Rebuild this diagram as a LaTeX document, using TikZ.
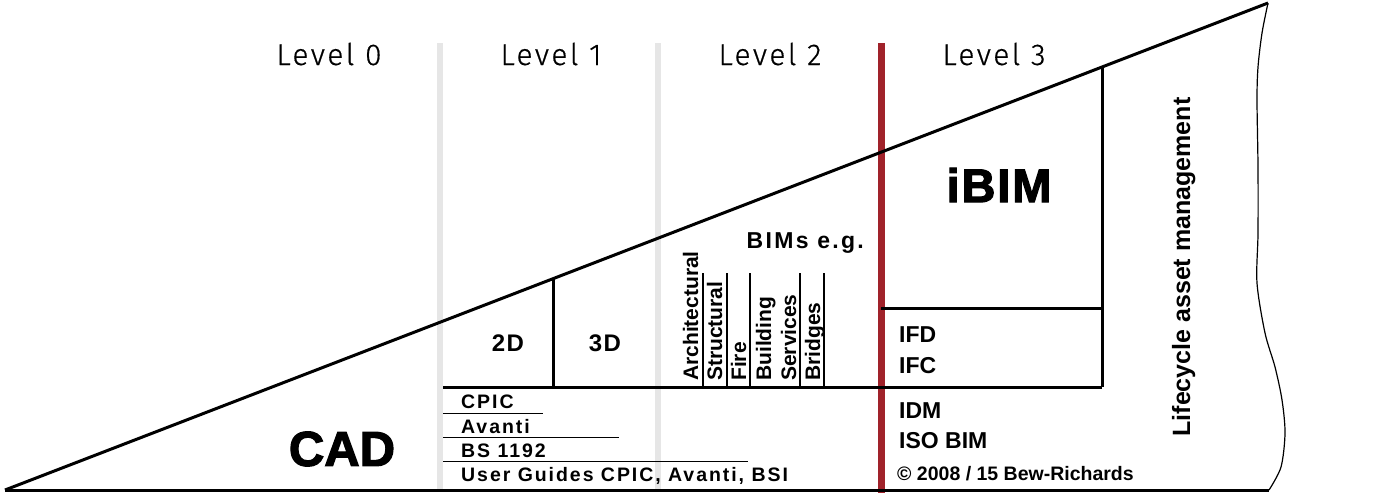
\documentclass[tikz,border=0pt]{standalone}
\usepackage{fontspec}
\setmainfont{Liberation Sans}
\newfontfamily\levelfont[LetterSpace=8,FakeBold=0.5]{Fira Sans Light}
\newfontfamily\heavyfont[FakeBold=2.5]{Liberation Sans Bold}
\newfontfamily\widefont[LetterSpace=10]{Liberation Sans Bold}
\newfontfamily\tagfont[LetterSpace=6]{Liberation Sans Bold}
\newfontfamily\boldfont{Liberation Sans Bold}
\usetikzlibrary{calc}
\definecolor{levelgrey}{HTML}{E6E6E6}
\definecolor{levelred}{HTML}{A0222A}

\begin{document}
\begin{tikzpicture}[
    x=1pt, y=-1pt,
    thickline/.style={line width=3pt},
    thinline/.style={line width=1pt},
    levelline/.style={line width=6pt, draw=levelgrey},
    lvl/.style={font=\levelfont\fontsize{30}{30}\selectfont, anchor=base, inner sep=0pt},
    rowtext/.style={font=\widefont\fontsize{19.5}{19.5}\selectfont, anchor=base west, inner sep=0pt},
    bimtext/.style={font=\boldfont\fontsize{21}{21}\selectfont, rotate=90, anchor=base west, inner sep=0pt},
    stdtext/.style={font=\boldfont\fontsize{23}{23}\selectfont, anchor=base west, inner sep=0pt},
    bigtext/.style={font=\heavyfont\fontsize{#1}{#1}\selectfont, inner sep=0pt}
]
    \useasboundingbox (0,0) rectangle (1383,493);

    % level separators
    \draw[levelline] (440,43) -- (440,490);
    \draw[levelline] (658,43) -- (658,490);
    \draw[line width=7pt, levelred] (881,43) -- (881,493);

    \node[lvl] (lvl0) at (329,65) {Level 0};
    \node[lvl] (lvl1) at (551,65) {Level 1};
    \node[lvl] (lvl2) at (770,65) {Level 2};
    \node[lvl] (lvl3) at (994,65) {Level 3};

    % wedge
    \coordinate (apex) at (5,490);
    \coordinate (tip) at (1268,3);
    \coordinate (foot) at (1269,490);
    \draw[thickline] (apex) -- (tip);
    \draw[thickline] (apex) -- (foot);
    \draw[line width=1.2pt] plot[smooth] coordinates {(1268,3) (1262,33) (1258,67)
        (1257,100) (1258,167) (1258,233) (1257,283) (1265,333) (1275,367)
        (1282,400) (1285,433) (1281,467) (1269,490)};

    % boxes
    \coordinate (d2) at ($(apex)!0.4339!(tip)$);
    \coordinate (d3) at ($(apex)!0.8686!(tip)$);
    \draw[thickline] (443,387) -- (1102,387);
    \draw[thickline] (d2) -- (d2 |- 0,387);
    \draw[thickline] (d3) -- (d3 |- 0,387);
    \draw[thickline] (881,308) -- (1102,308);

    % level 1 rows
    \draw[thinline] (443,413) -- (543,413);
    \draw[thinline] (443,437) -- (619,437);
    \draw[thinline] (443,461) -- (748,461);
    \node[rowtext] (cpic) at (461,408) {CPIC};
    \node[rowtext] (avanti) at (461,433) {Avanti};
    \node[rowtext] (bs) at (461,457) {BS 1192};
    \node[rowtext] (guides) at (461,481) {User Guides CPIC, Avanti, BSI};

    \node[bigtext=49] (cad) at (342,449) {CAD};
    \node[font=\tagfont\fontsize{24}{24}\selectfont, inner sep=0pt] (twoD) at (508,343) {2D};
    \node[font=\tagfont\fontsize{24}{24}\selectfont, inner sep=0pt] (threeD) at (605,343) {3D};

    % level 2 models
    \node[font=\widefont\fontsize{23}{23}\selectfont, anchor=base east, inner sep=0pt] (bims) at (864,248) {BIMs e.g.};
    \foreach \x in {703,727,750,800,824}
        \draw[line width=1.2pt] (\x,273) -- (\x,387);
    \node[bimtext] (arch) at (698,381) {Architectural};
    \node[bimtext] (struct) at (722,381) {Structural};
    \node[bimtext] (fire) at (746,381) {Fire};
    \node[bimtext] (build) at (771,381) {Building};
    \node[bimtext] (serv) at (796,381) {Services};
    \node[bimtext] (bridge) at (820,381) {Bridges};

    % level 3
    \node[bigtext=47, font=\heavyfont\addfontfeature{LetterSpace=4}\fontsize{47}{47}\selectfont] (ibim) at (999,185) {iBIM};
    \node[stdtext] (ifd) at (899,342) {IFD};
    \node[stdtext] (ifc) at (899,373) {IFC};
    \node[stdtext] (idm) at (899,418) {IDM};
    \node[stdtext] (iso) at (899,448) {ISO BIM};
    \node[font=\boldfont\fontsize{19.5}{19.5}\selectfont, anchor=base west, inner sep=0pt] (copy) at (897,480) {© 2008 / 15 Bew-Richards};
    \node[font=\boldfont\fontsize{25}{25}\selectfont, rotate=90, anchor=base, inner sep=0pt] (lam) at (1190,267) {Lifecycle asset management};
\end{tikzpicture}
\end{document}
